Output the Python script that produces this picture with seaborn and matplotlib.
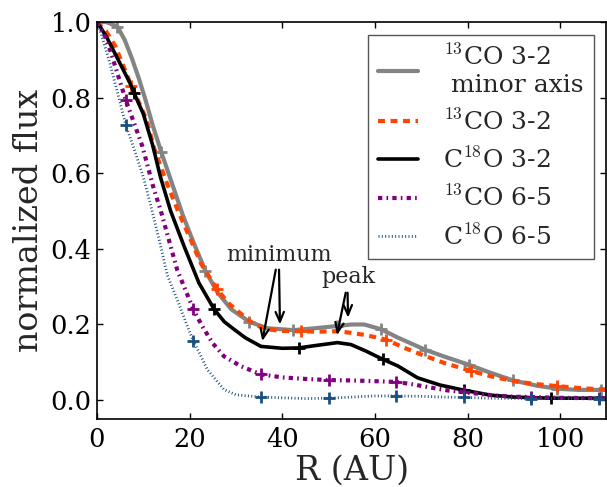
import numpy as np
import pandas as pd
import matplotlib
matplotlib.use("Agg")
import matplotlib.pyplot as plt
import seaborn as sns

# ---------------- data ----------------
# 13CO 3-2 minor axis (grey)
R_gray = [0, 2, 4.4, 6, 7.5, 9, 10.5, 12, 13.9, 16, 18.5, 20.9, 23.4, 26, 29, 32.9, 36.8, 42.4,
          47, 51.9, 55, 57.7, 61.4, 65, 70.9, 75, 80.4, 85, 89.9, 95, 99.4, 104, 108.9, 110]
y_gray = [1.0, 1.0, 0.988, 0.952, 0.905, 0.852, 0.793, 0.728, 0.655, 0.58, 0.49, 0.415, 0.342,
          0.285, 0.24, 0.207, 0.19, 0.185, 0.19, 0.196, 0.2, 0.2, 0.187, 0.165, 0.133, 0.115,
          0.093, 0.072, 0.052, 0.038, 0.03, 0.027, 0.027, 0.027]
mR_gray = [4.4, 13.9, 23.4, 32.9, 42.4, 51.9, 61.4, 70.9, 80.4, 89.9, 99.4, 108.9]
my_gray = [0.988, 0.655, 0.342, 0.207, 0.185, 0.196, 0.187, 0.133, 0.093, 0.052, 0.03, 0.027]

# 13CO 3-2 (orange dashed)
R_or = [0, 2, 4, 7.4, 10.7, 12.3, 15.2, 17.5, 20.2, 22.5, 25.8, 28.5, 31.7, 34, 36.8, 40, 44,
        48, 51.9, 54.8, 58, 62.4, 66, 69.9, 75, 80.8, 85, 90, 95, 99.3, 105, 110]
y_or = [1.0, 0.975, 0.935, 0.832, 0.742, 0.667, 0.57, 0.5, 0.425, 0.36, 0.295, 0.255, 0.222,
        0.2, 0.187, 0.183, 0.182, 0.181, 0.182, 0.178, 0.172, 0.16, 0.14, 0.121, 0.098, 0.077,
        0.063, 0.05, 0.042, 0.037, 0.031, 0.028]
mR_or = [7.4, 25.8, 44.0, 62.4, 80.8, 99.3]
my_or = [0.832, 0.295, 0.182, 0.16, 0.077, 0.037]

# C18O 3-2 (black)
R_bk = [0, 2, 4.2, 7.1, 8, 10, 12, 13.7, 15.9, 18.8, 22, 25.3, 27.5, 29.6, 32, 35.4, 40, 43.6,
        47, 51.9, 54.8, 58, 61.7, 65, 69.2, 74, 79.3, 85, 90, 98.1, 105, 110]
y_bk = [1.0, 0.962, 0.909, 0.839, 0.812, 0.757, 0.675, 0.59, 0.5, 0.407, 0.31, 0.24, 0.207,
        0.187, 0.165, 0.142, 0.137, 0.138, 0.144, 0.152, 0.147, 0.13, 0.108, 0.09, 0.059, 0.04,
        0.026, 0.013, 0.008, 0.005, 0.005, 0.005]
mR_bk = [8.0, 25.3, 43.6, 61.7, 79.3, 98.1]
my_bk = [0.812, 0.24, 0.138, 0.108, 0.026, 0.005]

# 13CO 6-5 (purple dash-dot)
R_pu = [0, 1.8, 2.8, 6.2, 7.5, 9.8, 12.3, 13.7, 17.3, 20.8, 22.7, 25, 27.4, 31, 35.4, 40, 45,
        50, 55, 60, 64.6, 68, 72.1, 76, 79.2, 85, 90, 93.8, 100, 108.4, 110]
y_pu = [1.0, 0.96, 0.927, 0.794, 0.75, 0.671, 0.557, 0.504, 0.345, 0.24, 0.196, 0.15, 0.116,
        0.09, 0.068, 0.06, 0.056, 0.053, 0.052, 0.05, 0.048, 0.042, 0.033, 0.025, 0.021, 0.013,
        0.009, 0.008, 0.006, 0.005, 0.005]
mR_pu = [6.2, 20.8, 35.4, 50.0, 64.6, 79.2, 93.8, 108.4]
my_pu = [0.794, 0.24, 0.068, 0.053, 0.048, 0.021, 0.008, 0.005]

# C18O 6-5 (blue dotted)
R_bl = [0, 1, 2.8, 4.5, 6.2, 8, 10, 11.6, 13.5, 15.2, 17.5, 19.5, 20.8, 22.5, 23.8, 27.4, 30,
        35.4, 40, 45, 50, 55, 60, 64.6, 70, 75, 79.2, 85, 93.8, 100, 108.4, 110]
y_bl = [1.0, 0.965, 0.89, 0.81, 0.728, 0.665, 0.59, 0.515, 0.42, 0.33, 0.26, 0.196, 0.156,
        0.115, 0.081, 0.028, 0.014, 0.008, 0.006, 0.004, 0.005, 0.008, 0.011, 0.011, 0.01, 0.008,
        0.007, 0.005, 0.004, 0.004, 0.004, 0.004]
mR_bl = [6.2, 20.8, 35.4, 50.0, 64.6, 79.2, 93.8, 108.4]
my_bl = [0.728, 0.156, 0.008, 0.005, 0.011, 0.007, 0.004, 0.004]

labels = [r"$^{13}$CO 3-2" + "\n minor axis", r"$^{13}$CO 3-2", r"C$^{18}$O 3-2",
          r"$^{13}$CO 6-5", r"C$^{18}$O 6-5"]
xticks = [0, 20, 40, 60, 80, 100]
yticks = [0.0, 0.2, 0.4, 0.6, 0.8, 1.0]

# ---------------- style ----------------
sns.set_style("ticks")
plt.rcParams.update({
    "font.family": ["DejaVu Serif"],
    "mathtext.fontset": "cm",
    "xtick.direction": "in",
    "ytick.direction": "in",
    "xtick.top": True,
    "ytick.right": True,
    "xtick.major.size": 4,
    "ytick.major.size": 4,
    "xtick.major.width": 1,
    "ytick.major.width": 1,
    "axes.linewidth": 1.2,
    "axes.edgecolor": "black",
    "lines.scale_dashes": False,
    "xtick.color": "black",
    "ytick.color": "black",
})

fig = plt.figure(figsize=(6.07, 4.87), dpi=100)
ax = fig.add_axes([97 / 607, 1 - 419 / 487, (606.5 - 97) / 607, (419 - 22) / 487])

series = [
    (R_gray, y_gray, mR_gray, my_gray, "#848484", 3.0, "-"),
    (R_or, y_or, mR_or, my_or, "#ff4500", 3.0, (0, (5.0, 4.0))),
    (R_bk, y_bk, mR_bk, my_bk, "black", 2.6, "-"),
    (R_pu, y_pu, mR_pu, my_pu, "#800080", 3.0, (0, (3.1, 3.0, 1.2, 3.0))),
    (R_bl, y_bl, mR_bl, my_bl, "#1a4f80", 2.0, (0, (0.7, 1.7))),
]

handles = []
for (R, y, mR, my, c, lw, ls), lab in zip(series, labels):
    n_before = len(ax.lines)
    sns.lineplot(x=R, y=y, color=c, linewidth=lw, linestyle=ls, ax=ax,
                 dash_capstyle="butt", label=lab, legend=False)
    handles.append(ax.lines[n_before])
    sns.lineplot(x=mR, y=my, color=c, marker="+", linestyle="none", ax=ax,
                 markersize=9, mew=2, mec=c, legend=False)

ax.set_xlim(0, 110)
ax.set_ylim(-0.05, 1.0)
ax.set_xticks(xticks)
ax.set_yticks(yticks)
ax.set_xticklabels([str(t) for t in xticks])
ax.set_yticklabels([f"{t:.1f}" for t in yticks])
ax.tick_params(axis="both", labelsize=18.5)
ax.tick_params(axis="x", pad=6)
ax.tick_params(axis="y", pad=4)
ax.set_xlabel("R (AU)", fontsize=24, labelpad=2)
ax.set_ylabel("normalized flux", fontsize=24, labelpad=4)

# annotations
arrow = dict(arrowstyle="->,head_length=0.7,head_width=0.3", lw=1.6, color="black",
             shrinkA=0, shrinkB=0)
ax.text(39.3, 0.367, "minimum", fontsize=16, ha="center", va="baseline")
ax.annotate("", xy=(35.7, 0.156), xytext=(38.6, 0.345), arrowprops=arrow)
ax.annotate("", xy=(39.5, 0.200), xytext=(39.3, 0.345), arrowprops=arrow)
ax.text(54.2, 0.31, "peak", fontsize=16, ha="center", va="baseline")
ax.annotate("", xy=(51.8, 0.172), xytext=(53.7, 0.284), arrowprops=arrow)
ax.annotate("", xy=(54.2, 0.218), xytext=(54.1, 0.284), arrowprops=arrow)

leg = ax.legend(handles=handles, labels=labels, loc="upper right", fontsize=18,
                frameon=True, fancybox=False, edgecolor="#555555", framealpha=1,
                handlelength=1.6, handletextpad=1.0, labelspacing=0.5,
                borderpad=0.4, borderaxespad=0.5)
leg.get_frame().set_linewidth(1.0)

fig.savefig("out.png", dpi=100)
